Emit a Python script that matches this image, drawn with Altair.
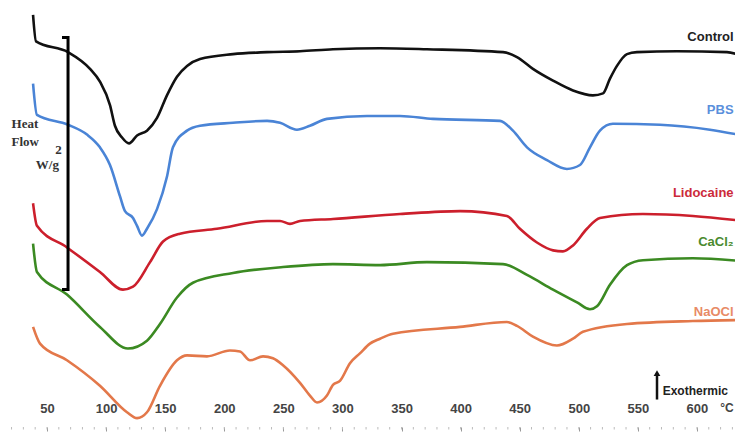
import altair as alt
import pandas as pd

# Temperatures (°C) and heat-flow readings (arbitrary units, larger = upward/exothermic)
control_T = [38.2, 40.7, 67.8, 86.4, 94.8, 103.3, 107.5, 113.5, 119.4, 126.2, 134.6, 143.1, 151.5, 160.0,
             168.5, 179.5, 207.4, 236.2, 264.1, 292.0, 331.8, 371.5, 435.9, 447.7, 461.2, 478.2, 495.1,
             512.0, 520.5, 526.4, 532.3, 540.8, 549.2, 583.1, 625.4, 638.9]
control_v = [425, 398, 387, 370, 357, 333, 312, 300, 294, 302, 307, 320, 343, 362, 373, 380, 385, 387, 388,
             390, 391, 390, 387, 382, 370, 358, 348, 343, 345, 360, 373, 385, 387, 388, 387, 383]

pbs_T = [38.2, 41.5, 67.8, 83.8, 94.8, 103.3, 111.8, 116.0, 122.8, 126.2, 130.4, 134.6, 143.1, 151.5, 156.6,
         168.5, 179.5, 207.4, 236.2, 247.2, 261.5, 272.5, 286.9, 320.8, 348.7, 376.6, 433.3, 444.3, 456.2,
         473.1, 490.0, 501.0, 509.5, 517.9, 528.9, 568.7, 611.0, 638.9]
pbs_v = [355, 323, 313, 303, 290, 272, 240, 225, 218, 210, 200, 207, 227, 260, 290, 307, 312, 315, 317, 315,
         308, 312, 319, 322, 322, 319, 317, 307, 290, 277, 268, 272, 290, 307, 314, 313, 308, 302]

lido_T = [38.2, 41.5, 66.9, 94.8, 114.3, 122.8, 137.2, 148.2, 162.5, 193.8, 236.2, 247.2, 255.6, 264.1,
          292.0, 348.7, 399.5, 439.2, 450.2, 464.6, 478.2, 486.6, 495.1, 506.9, 517.9, 554.3, 596.6, 638.9]
lido_v = [233, 210, 188, 163, 145, 148, 173, 194, 202, 207, 215, 215, 212, 215, 217, 222, 225, 220, 207,
          193, 185, 184, 190, 207, 218, 222, 220, 215]

cacl_T = [38.2, 41.5, 66.9, 94.8, 118.5, 134.6, 145.6, 160.0, 173.5, 207.4, 249.7, 292.0, 331.8, 371.5,
          435.9, 456.2, 478.2, 498.5, 509.5, 515.4, 526.4, 540.8, 554.3, 596.6, 638.9]
cacl_v = [192, 163, 140, 107, 85, 93, 110, 137, 152, 162, 168, 171, 170, 173, 171, 160, 145, 132, 125, 128,
          150, 170, 175, 177, 174]

naocl_T = [38.2, 44.1, 66.9, 94.8, 117.7, 126.2, 134.6, 145.6, 160.0, 168.5, 185.4, 204.8, 213.3, 221.8,
           232.8, 241.2, 249.7, 264.1, 272.5, 278.5, 286.9, 292.0, 297.9, 306.4, 314.8, 323.3, 331.8, 342.8,
           399.5, 439.2, 447.7, 461.2, 481.5, 495.1, 503.5, 540.8, 596.6, 638.9]
naocl_v = [107, 90, 73, 47, 20, 14, 20, 47, 73, 78, 77, 83, 82, 73, 77, 75, 68, 50, 37, 30, 37, 48, 52, 70,
           80, 90, 95, 100, 107, 112, 108, 97, 88, 95, 102, 110, 113, 114]

series_names = ["Control", "PBS", "Lidocaine", "CaCl\u2082", "NaOCl"]
series_colors = ["#111111", "#4a84d6", "#cc1f2c", "#3b8a22", "#e3784a"]
label_colors = ["#222222", "#5a8fdc", "#cc2a3a", "#4a8a2e", "#e88a66"]
label_T = [631, 631, 631, 631, 631]
label_v = [402, 328, 243, 194, 122]

minor_ticks = list(range(20, 640, 10))
tick_labels = [50, 100, 150, 200, 250, 300, 350, 400, 450, 500, 550, 600]

# scale bar (2 W/g)
bar_T = [62.7, 67.8, 67.8, 62.7]
bar_v = [402, 402, 145, 145]

side_text = ["Heat", "Flow", "2", "W/g"]
side_T = [20.0, 20.0, 57.0, 40.5]
side_v = [314, 295, 287, 272]

rows = []
for name, T, v in zip(series_names,
                      [control_T, pbs_T, lido_T, cacl_T, naocl_T],
                      [control_v, pbs_v, lido_v, cacl_v, naocl_v]):
    for i, (t, y) in enumerate(zip(T, v)):
        rows.append({"series": name, "T": t, "v": y, "i": i})
df = pd.DataFrame(rows)

xs = alt.Scale(domain=[17, 632.2], nice=False, zero=False)
ys = alt.Scale(domain=[5, 432], nice=False, zero=False)

lines = alt.Chart(df).mark_line(strokeWidth=2.6, interpolate="monotone", clip=True).encode(
    x=alt.X("T:Q", scale=xs, title=None,
            axis=alt.Axis(values=tick_labels, domain=False, grid=False,
                          tickSize=4, tickColor="#999999", tickWidth=1, labelPadding=-29,
                          labelFont="Liberation Sans", labelFontSize=13, labelFontWeight="bold",
                          labelColor="#444444", labelFlush=False, labelOverlap=False)),
    y=alt.Y("v:Q", scale=ys, axis=None),
    color=alt.Color("series:N", scale=alt.Scale(domain=series_names, range=series_colors), legend=None),
    order="i:Q",
)

minor = alt.Chart(pd.DataFrame({"T": minor_ticks})).mark_rule(color="#bbbbbb", strokeWidth=1).encode(
    x=alt.X("T:Q", scale=xs), y=alt.value(419), y2=alt.value(421.5))

lab_df = pd.DataFrame({"name": series_names, "T": label_T, "v": label_v, "col": label_colors})
labels = alt.Chart(lab_df).mark_text(align="right", baseline="middle", font="Liberation Sans",
                                     fontSize=13, fontWeight="bold").encode(
    x=alt.X("T:Q", scale=xs), y=alt.Y("v:Q", scale=ys), text="name:N",
    color=alt.Color("col:N", scale=None),
)

bar_df = pd.DataFrame({"T": bar_T, "v": bar_v, "i": [0, 1, 2, 3]})
bar = alt.Chart(bar_df).mark_line(color="#000000", strokeWidth=3).encode(
    x=alt.X("T:Q", scale=xs), y=alt.Y("v:Q", scale=ys), order="i:Q")

side_df = pd.DataFrame({"t": side_text, "T": side_T, "v": side_v})
side = alt.Chart(side_df).mark_text(align="left", baseline="middle", font="Liberation Serif",
                                    fontSize=13, fontWeight="bold", color="#333333").encode(
    x=alt.X("T:Q", scale=xs), y=alt.Y("v:Q", scale=ys), text="t:N")

arrow_df = pd.DataFrame({"T": [566.2], "v": [33], "v2": [58]})
arrow_shaft = alt.Chart(arrow_df).mark_rule(color="#111111", strokeWidth=2.5).encode(
    x=alt.X("T:Q", scale=xs), y=alt.Y("v:Q", scale=ys), y2="v2:Q")
arrow_head = alt.Chart(pd.DataFrame({"T": [566.2], "v": [60]})).mark_point(
    shape="triangle-up", filled=True, size=45, color="#111111", opacity=1).encode(
    x=alt.X("T:Q", scale=xs), y=alt.Y("v:Q", scale=ys))

exo = alt.Chart(pd.DataFrame({"t": ["Exothermic"], "T": [571.0], "v": [42]})).mark_text(
    align="left", baseline="middle", font="Liberation Sans",
    fontSize=12, fontWeight="bold", color="#222222").encode(
    x=alt.X("T:Q", scale=xs), y=alt.Y("v:Q", scale=ys), text="t:N")
degc = alt.Chart(pd.DataFrame({"t": ["\u00b0C"], "T": [625.4], "v": [24]})).mark_text(
    align="center", baseline="middle", font="Liberation Sans",
    fontSize=12, fontWeight="bold", color="#444444").encode(
    x=alt.X("T:Q", scale=xs), y=alt.Y("v:Q", scale=ys), text="t:N")

chart = alt.layer(minor, lines, labels, bar, side, arrow_shaft, arrow_head, exo, degc).properties(
    width=727, height=419, padding=0, background="white"
).configure_view(stroke=None)

chart.save("out.html", embed_options={"renderer": "svg", "actions": False})
